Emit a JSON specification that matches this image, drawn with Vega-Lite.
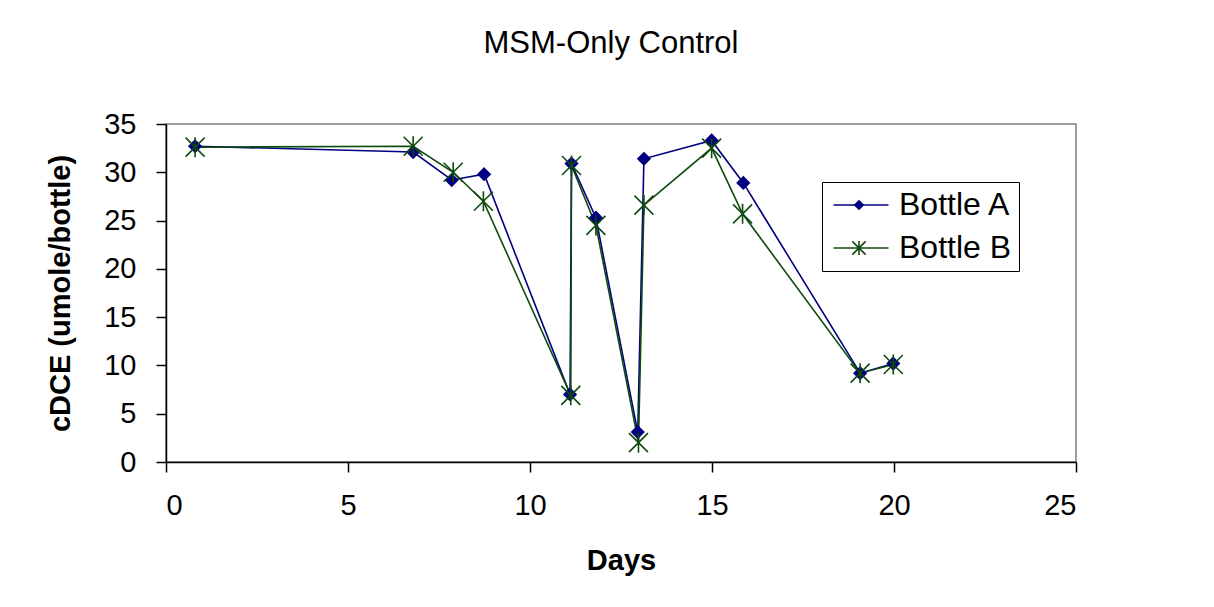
{
  "$schema": "https://vega.github.io/schema/vega-lite/v6.json",
  "autosize": {"type": "none"},
  "padding": {"left": 166, "top": 124, "right": 138, "bottom": 145},
  "width": 910,
  "height": 338,
  "background": "white",
  "title": {"text": "MSM-Only Control", "font": "Liberation Sans", "fontSize": 31, "fontWeight": "normal", "color": "black", "offset": 50, "dx": -10},
  "data": {"values": [
    {"series": "Bottle A", "marker": "Bottle A", "day": 0.80, "value": 32.7},
    {"series": "Bottle A", "marker": "Bottle A", "day": 6.79, "value": 32.1},
    {"series": "Bottle A", "marker": "Bottle A", "day": 7.85, "value": 29.2},
    {"series": "Bottle A", "marker": "Bottle A", "day": 8.74, "value": 29.8},
    {"series": "Bottle A", "marker": "Bottle A", "day": 11.10, "value": 7.0},
    {"series": "Bottle A", "marker": "Bottle A", "day": 11.14, "value": 30.9},
    {"series": "Bottle A", "marker": "Bottle A", "day": 11.81, "value": 25.3},
    {"series": "Bottle A", "marker": "Bottle A", "day": 12.96, "value": 3.1},
    {"series": "Bottle A", "marker": "Bottle A", "day": 13.13, "value": 31.4},
    {"series": "Bottle A", "marker": "Bottle A", "day": 14.99, "value": 33.3},
    {"series": "Bottle A", "marker": "Bottle A", "day": 15.86, "value": 28.9},
    {"series": "Bottle A", "marker": "Bottle A", "day": 19.07, "value": 9.2},
    {"series": "Bottle A", "marker": "Bottle A", "day": 19.98, "value": 10.2},
    {"series": "Bottle B", "marker": "Bottle B", "day": 0.80, "value": 32.6},
    {"series": "Bottle B", "marker": "Bottle B", "day": 6.79, "value": 32.7},
    {"series": "Bottle B", "marker": "Bottle B", "day": 7.89, "value": 30.0},
    {"series": "Bottle B", "marker": "Bottle B", "day": 8.72, "value": 27.0},
    {"series": "Bottle B", "marker": "Bottle B", "day": 11.12, "value": 6.9},
    {"series": "Bottle B", "marker": "Bottle B", "day": 11.14, "value": 30.7},
    {"series": "Bottle B", "marker": "Bottle B", "day": 11.81, "value": 24.5},
    {"series": "Bottle B", "marker": "Bottle B", "day": 12.98, "value": 2.0},
    {"series": "Bottle B", "marker": "Bottle B", "day": 13.13, "value": 26.6},
    {"series": "Bottle B", "marker": "Bottle B", "day": 14.99, "value": 32.5},
    {"series": "Bottle B", "marker": "Bottle B", "day": 15.84, "value": 25.7},
    {"series": "Bottle B", "marker": "Bottle B", "day": 19.07, "value": 9.2},
    {"series": "Bottle B", "marker": "Bottle B", "day": 19.98, "value": 10.1}
  ]},
  "encoding": {
    "x": {"field": "day", "type": "quantitative", "scale": {"domain": [0, 25], "nice": false}, "axis": {"values": [0, 5, 10, 15, 20, 25], "title": "Days", "labelPadding": 19, "titlePadding": 26}},
    "y": {"field": "value", "type": "quantitative", "scale": {"domain": [0, 35], "nice": false}, "axis": {"values": [0, 5, 10, 15, 20, 25, 30, 35], "title": "cDCE (umole/bottle)", "labelPadding": 20, "titlePadding": 28}}
  },
  "layer": [
    {
      "mark": {"type": "line", "strokeWidth": 1.6},
      "encoding": {
        "color": {"field": "series", "type": "nominal", "scale": {"domain": ["Bottle A", "Bottle B"], "range": ["#000080", "#0f4a0f"]},
          "legend": {"symbolType": "M-5.5,0L5.5,0", "symbolSize": 100, "symbolOffset": 16, "labelOffset": 22, "strokeColor": "black", "fillColor": "transparent", "symbolStrokeWidth": 1.6}},
        "order": {"field": "day"}
      }
    },
    {
      "mark": {"type": "point", "filled": true, "size": 400, "strokeWidth": 1.6, "opacity": 1},
      "encoding": {
        "fill": {"field": "marker", "type": "nominal", "scale": {"domain": ["Bottle A", "Bottle B"], "range": ["#000080", "#0f4a0f"]},
          "legend": {"symbolSize": 196, "symbolOffset": 14, "labelOffset": 18, "labelOpacity": 0, "strokeColor": "transparent", "fillColor": "transparent", "symbolStrokeWidth": 1.6}},
        "stroke": {"field": "marker", "type": "nominal", "scale": {"domain": ["Bottle A", "Bottle B"], "range": ["#000080", "#0f4a0f"]},
          "legend": {"symbolSize": 196, "symbolOffset": 14, "labelOffset": 18, "labelOpacity": 0, "strokeColor": "transparent", "fillColor": "transparent", "symbolStrokeWidth": 1.6}},
        "shape": {"field": "marker", "type": "nominal", "scale": {"domain": ["Bottle A", "Bottle B"], "range": ["M0,-0.6L0.6,0L0,0.6L-0.6,0Z", "M0,-1L0,1M-0.95,-0.95L0.95,0.95M-0.95,0.95L0.95,-0.95"]},
          "legend": {"symbolSize": 196, "symbolOffset": 14, "labelOffset": 18, "labelOpacity": 0, "strokeColor": "transparent", "fillColor": "transparent", "symbolStrokeWidth": 1.6}}
      }
    }
  ],
  "resolve": {"legend": {"color": "independent", "fill": "independent", "stroke": "independent", "shape": "independent"}},
  "config": {
    "view": {"stroke": "#808080", "strokeWidth": 1.5},
    "axis": {"grid": false, "domainColor": "black", "tickColor": "black", "labelColor": "black", "titleColor": "black", "labelFont": "Liberation Sans", "titleFont": "Liberation Sans", "labelFontSize": 29, "titleFontSize": 29, "titleFontWeight": "bold", "tickSize": 10, "domainWidth": 1.5, "tickWidth": 1.5},
    "legend": {
      "title": null, "orient": "none", "legendX": 656, "legendY": 58,
      "padding": 7,
      "labelFont": "Liberation Sans", "labelFontSize": 32, "labelColor": "black",
      "rowPadding": 11
    }
  }
}
